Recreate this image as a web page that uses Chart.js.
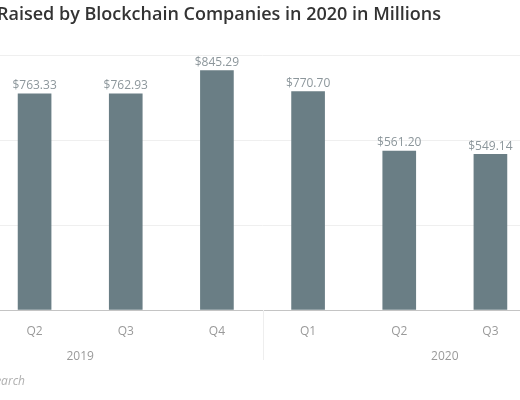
<!DOCTYPE html>
<html>
<head>
<meta charset="utf-8">
<script src="https://cdn.jsdelivr.net/npm/chart.js@4.4.1/dist/chart.umd.min.js"></script>
<style>
  html, body { margin: 0; padding: 0; background: #fff; }
  #wrap { position: relative; width: 520px; height: 400px; overflow: hidden; }
  #c { position: absolute; left: -20px; top: 0; }
</style>
</head>
<body>
<div id="wrap"><canvas id="c" width="560" height="400"></canvas></div>
<script>
const quarters = ['Q2', 'Q3', 'Q4', 'Q1', 'Q2', 'Q3'];
const years = ['2019', '2019', '2019', '2020', '2020', '2020'];
const funds = [763.33, 762.93, 845.29, 770.70, 561.20, 549.14];
const yTicks = [0, 300, 600, 900];
const titleText = 'Raised by Blockchain Companies in 2020 in Millions';
const sourceText = 'Research';

const OFFSET = 20; // canvas is shifted left by this many px

const extras = {
  id: 'extras',
  afterDraw(chart) {
    const ctx = chart.ctx;
    const x = chart.scales.x;
    const area = chart.chartArea;
    const step = x.getPixelForValue(1) - x.getPixelForValue(0);
    ctx.save();
    // title
    ctx.fillStyle = '#333333';
    ctx.font = '600 18px "Open Sans"';
    ctx.textAlign = 'left';
    ctx.textBaseline = 'middle';
    ctx.fillText(titleText, OFFSET - 3, 15);
    // year group labels (each year spans four quarters)
    ctx.fillStyle = '#9a9a9a';
    ctx.font = '12px "Open Sans"';
    ctx.textAlign = 'center';
    const c2019 = (x.getPixelForValue(0) - step + x.getPixelForValue(2)) / 2;
    const c2020 = (x.getPixelForValue(3) + x.getPixelForValue(5) + step) / 2;
    ctx.fillText(years[0], c2019, 357);
    ctx.fillText(years[3], c2020, 357);
    // separator between years
    const sep = (x.getPixelForValue(2) + x.getPixelForValue(3)) / 2;
    ctx.strokeStyle = '#eeeeee';
    ctx.lineWidth = 1;
    ctx.beginPath();
    ctx.moveTo(Math.round(sep) + 0.5, area.bottom);
    ctx.lineTo(Math.round(sep) + 0.5, 360);
    ctx.stroke();
    // source
    ctx.fillStyle = '#b0b0b0';
    ctx.font = 'italic 12px "Open Sans"';
    ctx.textAlign = 'right';
    ctx.fillText(sourceText, OFFSET + 25, 382);
    // value labels
    ctx.fillStyle = '#8c969b';
    ctx.font = '12px "Open Sans"';
    ctx.textAlign = 'center';
    ctx.textBaseline = 'bottom';
    const meta = chart.getDatasetMeta(0);
    meta.data.forEach((bar, i) => {
      ctx.fillText('$' + funds[i].toFixed(2), bar.x, bar.y - 2);
    });
    ctx.restore();
  }
};

new Chart(document.getElementById('c'), {
  type: 'bar',
  data: {
    labels: quarters,
    datasets: [{
      data: funds,
      backgroundColor: '#6a7e85',
      barThickness: 33
    }]
  },
  options: {
    responsive: false,
    animation: false,
    devicePixelRatio: 1,
    layout: { padding: { top: 55, left: 9, right: 4, bottom: 0 } },
    plugins: {
      legend: { display: false },
      tooltip: { enabled: false },
      title: { display: false }
    },
    scales: {
      x: {
        grid: { display: false, drawTicks: false },
        border: { display: true, color: '#c4c4c4', width: 1 },
        ticks: { color: '#9a9a9a', font: { family: 'Open Sans', size: 12 }, padding: 14, maxRotation: 0 },
        afterFit(scale) { scale.height = 90; }
      },
      y: {
        min: yTicks[0],
        max: yTicks[yTicks.length - 1],
        afterBuildTicks(scale) { scale.ticks = yTicks.map(v => ({ value: v })); },
        ticks: { display: false },
        border: { display: false },
        grid: {
          drawTicks: false,
          color: (c) => c.tick && c.tick.value === 0 ? 'rgba(0,0,0,0)' : '#efefef'
        },
        afterFit(scale) { scale.width = 0; }
      }
    }
  },
  plugins: [extras]
});
</script>
</body>
</html>
